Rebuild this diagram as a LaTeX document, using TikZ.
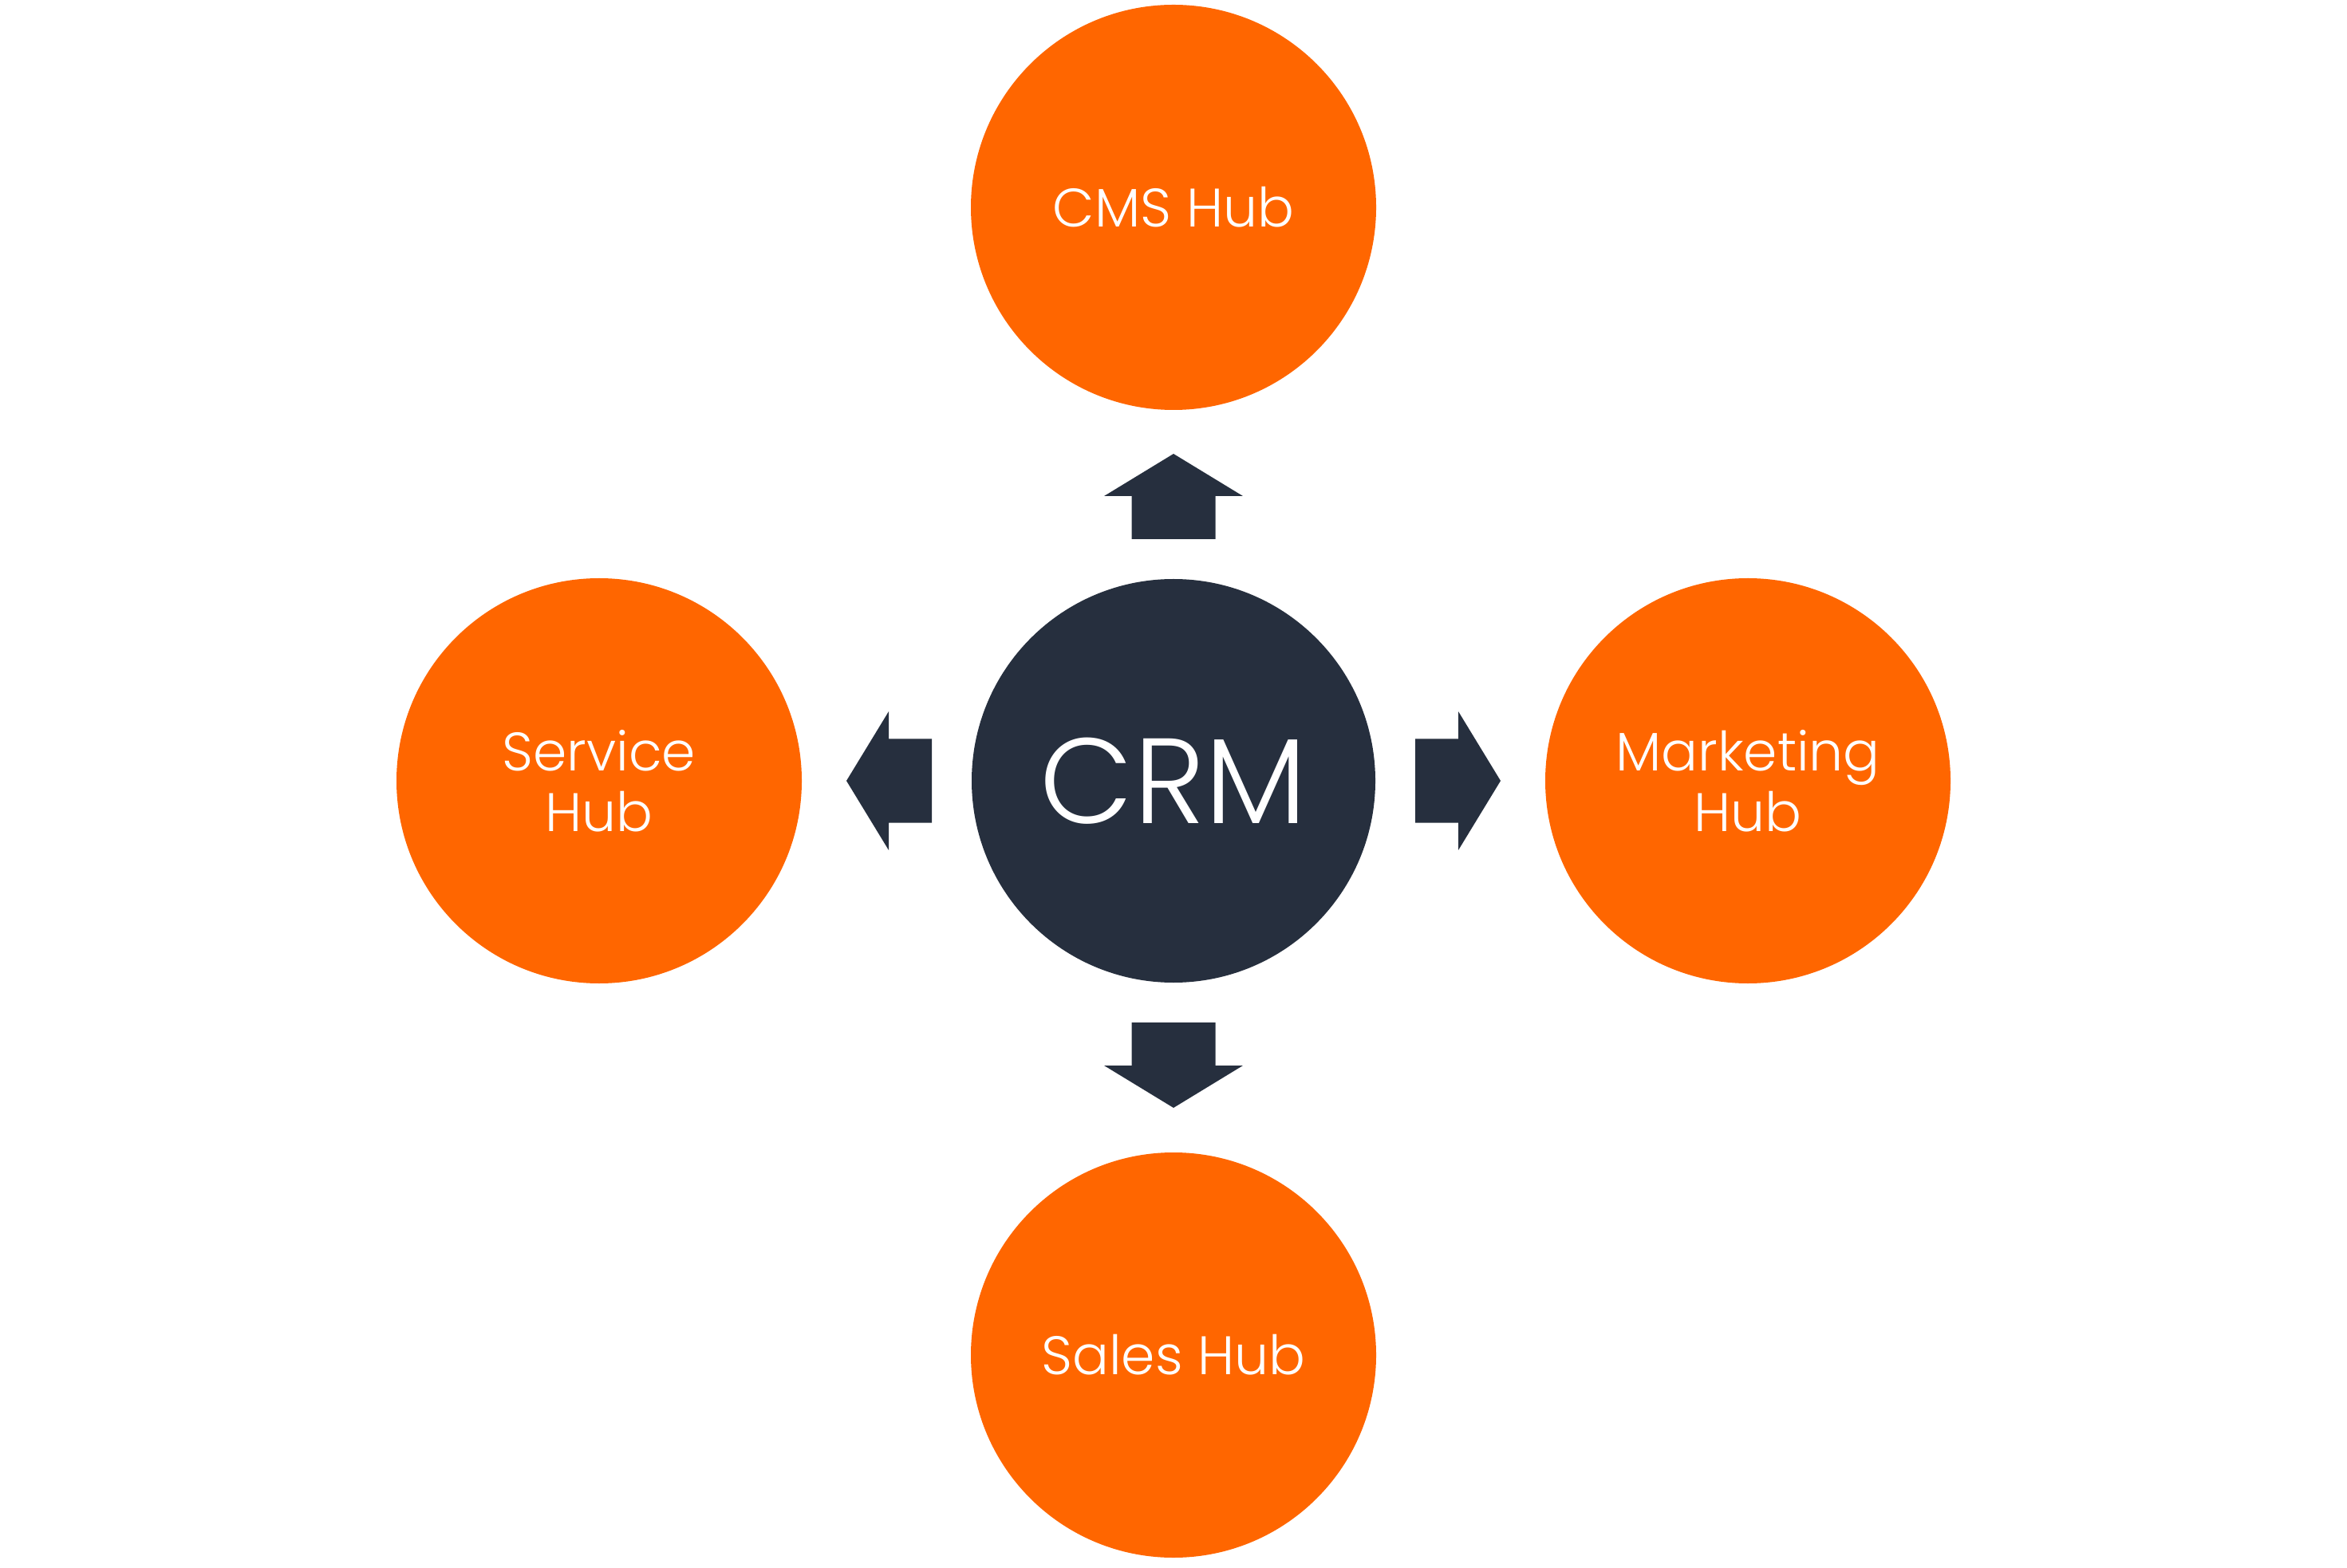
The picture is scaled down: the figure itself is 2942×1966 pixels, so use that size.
\documentclass[tikz,border=0pt]{standalone}
\usepackage{fontspec}
\setmainfont{Poppins}[UprightFont=* Light]
\definecolor{hubor}{HTML}{FF6600}
\definecolor{crmdark}{HTML}{262F3E}
\begin{document}
\begin{tikzpicture}[x=0.25pt,y=-0.25pt,
  hub/.style={circle,fill=hubor,minimum size=127pt,inner sep=0pt,text=white,
    align=center,font=\fontsize{17}{19}\selectfont},
  core/.style={circle,fill=crmdark,minimum size=126.5pt,inner sep=0pt,text=white,
    font=\fontsize{38}{40}\selectfont},
  blockarrow/.style={fill=crmdark}]
\useasboundingbox (0,0) rectangle (2942,1966);
\node[core] (crm) at (1471,979) {CRM};
\node[hub] (cms) at (1471,260) {CMS Hub};
\node[hub] (service) at (751,979) {Service\\Hub};
\node[hub] (marketing) at (2191,979) {Marketing\\Hub};
\node[hub] (sales) at (1471,1699) {Sales Hub};
\foreach \ang in {0,90,180,270}{
  \begin{scope}[shift={(crm.center)},rotate=\ang]
    \fill[blockarrow] (-52.5,-303) -- (-52.5,-357) -- (-87,-357) -- (0,-410)
      -- (87,-357) -- (52.5,-357) -- (52.5,-303) -- cycle;
  \end{scope}
}
\end{tikzpicture}
\end{document}
